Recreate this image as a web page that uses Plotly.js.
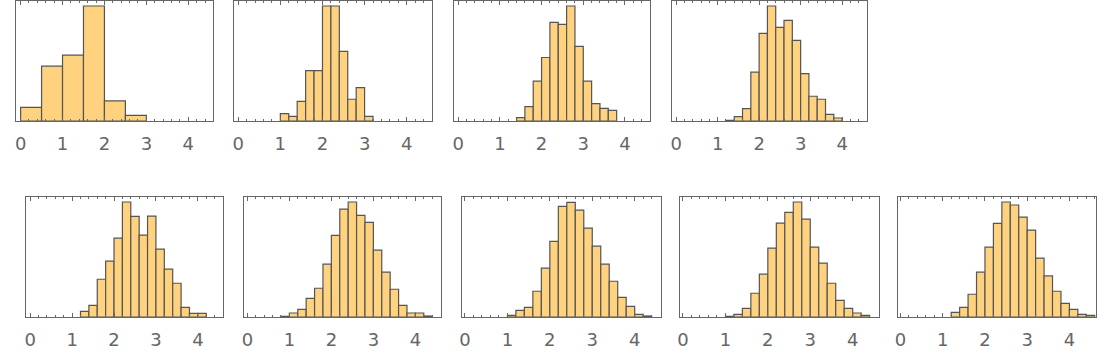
<!DOCTYPE html>
<html>
<head>
<meta charset="utf-8">
<script src="https://cdn.plot.ly/plotly-3.0.1.min.js"></script>
<style>
html,body{margin:0;padding:0;background:#fff;}
#chart{width:1114px;height:354px;}
</style>
</head>
<body>
<div id="chart"></div>
<script>
// Histogram data (relative bar heights)
const binStart1 = 0.0, binWidth1 = 0.5;
const heights1 = [41, 164, 197, 344, 60, 17];

const binStart2 = 1.0, binWidth2 = 0.2;
const heights2 = [22, 14, 59, 151, 151, 344, 344, 208, 65, 100, 14];

const binStart3 = 1.4, binWidth3 = 0.2;
const heights3 = [10, 43, 119, 190, 295, 289, 344, 223, 119, 52, 38, 32];

const binStart4 = 1.2, binWidth4 = 0.2;
const heights4 = [2, 13, 37, 146, 262, 344, 280, 301, 241, 142, 74, 65, 20, 9];

const binStart5 = 1.2, binWidth5 = 0.2;
const heights5 = [17, 35, 113, 167, 236, 344, 301, 245, 302, 203, 143, 101, 29, 11, 11];

const binStart6 = 0.8, binWidth6 = 0.2;
const heights6 = [2, 12, 23, 56, 86, 158, 244, 323, 344, 304, 283, 200, 134, 83, 35, 12, 12, 3];

const binStart7 = 1.0, binWidth7 = 0.2;
const heights7 = [5, 20, 29, 77, 146, 226, 331, 343, 320, 266, 212, 158, 107, 59, 32, 8, 3];

const binStart8 = 1.0, binWidth8 = 0.2;
const heights8 = [2, 8, 26, 71, 128, 206, 281, 313, 344, 293, 209, 161, 101, 50, 26, 12, 5];

const binStart9 = 1.2, binWidth9 = 0.2;
const heights9 = [14, 29, 68, 134, 209, 280, 344, 335, 299, 260, 176, 123, 77, 41, 23, 8, 5];

const tickValues = [0, 1, 2, 3, 4];
const tickLabels = ['0', '1', '2', '3', '4'];

const panels = [
  {start: binStart1, width: binWidth1, h: heights1},
  {start: binStart2, width: binWidth2, h: heights2},
  {start: binStart3, width: binWidth3, h: heights3},
  {start: binStart4, width: binWidth4, h: heights4},
  {start: binStart5, width: binWidth5, h: heights5},
  {start: binStart6, width: binWidth6, h: heights6},
  {start: binStart7, width: binWidth7, h: heights7},
  {start: binStart8, width: binWidth8, h: heights8},
  {start: binStart9, width: binWidth9, h: heights9}
];

// frame boxes in pixels [left, right, top, bottom] and x ranges
const W = 1114, H = 354;
const frames = [
  [16, 213, 1, 121, [-0.11, 4.59]],
  [234, 432, 1, 121, [-0.1, 4.6]],
  [454, 650, 1, 121, [-0.1, 4.6]],
  [672, 867, 1, 121, [-0.1, 4.6]],
  [26, 223, 197, 317, [-0.1, 4.6]],
  [244, 441, 197, 317, [-0.08, 4.61]],
  [462, 661, 197, 317, [-0.07, 4.62]],
  [680, 879, 197, 317, [-0.07, 4.62]],
  [898, 1096, 197, 317, [-0.06, 4.63]]
];

const fillColor = '#FFD27F';
const edgeColor = '#555555';
const axisColor = '#666666';

const data = [];
const layout = {
  width: W, height: H,
  margin: {l: 0, r: 0, t: 0, b: 0},
  paper_bgcolor: '#ffffff',
  plot_bgcolor: '#ffffff',
  showlegend: false,
  bargap: 0,
  font: {family: 'DejaVu Sans', color: axisColor, size: 18}
};

panels.forEach((p, i) => {
  const n = i + 1;
  const xs = p.h.map((_, k) => p.start + p.width * (k + 0.5));
  data.push({
    type: 'bar',
    x: xs,
    y: p.h,
    width: p.width,
    marker: {color: fillColor, line: {color: edgeColor, width: 1.2}},
    xaxis: 'x' + (n === 1 ? '' : n),
    yaxis: 'y' + (n === 1 ? '' : n),
    hoverinfo: 'skip'
  });
  const f = frames[i];
  const xa = {
    domain: [f[0] / W, f[1] / W],
    range: f[4],
    anchor: 'y' + (n === 1 ? '' : n),
    tickmode: 'array',
    tickvals: tickValues,
    ticktext: tickLabels,
    ticks: 'inside',
    ticklen: 4,
    tickwidth: 1,
    tickcolor: axisColor,
    minor: {dtick: 0.2, tick0: 0, ticks: 'inside', ticklen: 2, tickcolor: axisColor},
    showline: true,
    linecolor: axisColor,
    linewidth: 1,
    mirror: 'ticks',
    showgrid: false,
    zeroline: false,
    fixedrange: true,
    ticklabelstandoff: 6,
    tickfont: {family: 'DejaVu Sans', size: 18, color: axisColor}
  };
  const ya = {
    domain: [1 - f[3] / H, 1 - f[2] / H],
    range: [0, 359],
    anchor: 'x' + (n === 1 ? '' : n),
    showticklabels: false,
    ticks: '',
    showline: true,
    linecolor: axisColor,
    linewidth: 1,
    mirror: true,
    showgrid: false,
    zeroline: false,
    fixedrange: true
  };
  layout['xaxis' + (n === 1 ? '' : n)] = xa;
  layout['yaxis' + (n === 1 ? '' : n)] = ya;
});

Plotly.newPlot('chart', data, layout, {displayModeBar: false, staticPlot: true});
</script>
</body>
</html>
